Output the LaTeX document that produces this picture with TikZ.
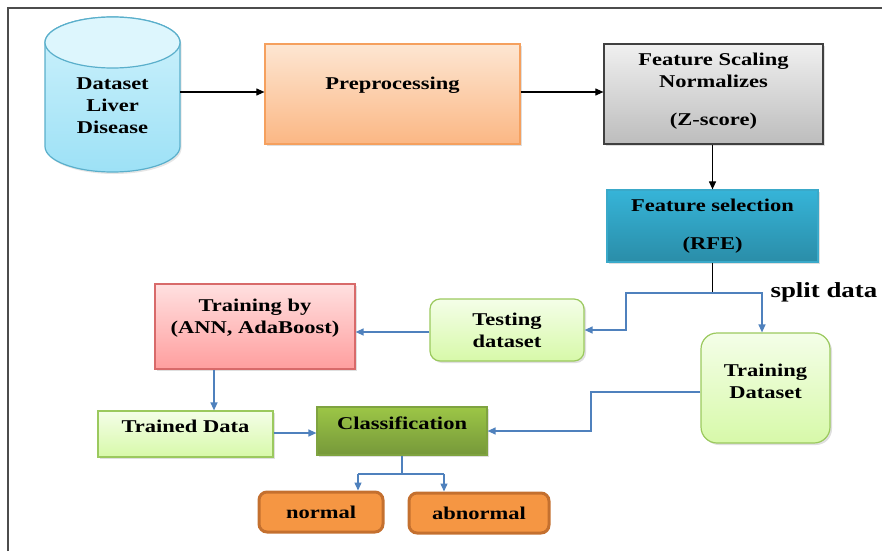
\documentclass[tikz,border=0pt]{standalone}
\usepackage{fontspec}
\setmainfont{Liberation Serif}[FakeStretch=1.25]
\usetikzlibrary{arrows.meta,shadows}
\definecolor{lineblue}{HTML}{4F81BD}
\definecolor{cylcap}{HTML}{DDF6FD}
\definecolor{cyltop}{HTML}{CFF2FC}
\definecolor{cylbot}{HTML}{9DE1F6}
\definecolor{cylline}{HTML}{5AAFCB}
\definecolor{preptop}{HTML}{FDE6D2}
\definecolor{prepbot}{HTML}{FBB784}
\definecolor{prepline}{HTML}{F5A05E}
\definecolor{seltop}{HTML}{36B4D8}
\definecolor{selbot}{HTML}{2A8DA8}
\definecolor{selline}{HTML}{3AA9C9}
\definecolor{pinktop}{HTML}{FFE0E0}
\definecolor{pinkbot}{HTML}{FF9E9E}
\definecolor{pinkline}{HTML}{D86A6A}
\definecolor{greentop}{HTML}{F4FEE8}
\definecolor{greenbot}{HTML}{D7F9A9}
\definecolor{greenline}{HTML}{9BC95E}
\definecolor{clstop}{HTML}{9CC646}
\definecolor{clsbot}{HTML}{76983A}
\definecolor{clsline}{HTML}{7FA340}
\definecolor{outorange}{HTML}{F59643}
\definecolor{outline}{HTML}{C4702F}
\begin{document}
\begin{tikzpicture}[x=1pt, y=-1pt,
    box/.style={draw, line width=1.2pt, inner sep=0pt,
      drop shadow={opacity=.25, shadow xshift=2pt, shadow yshift=-2pt}},
    greenbox/.style={box, draw=greenline, top color=greentop, bottom color=greenbot},
    outbox/.style={draw=outline, line width=3pt, fill=outorange, rounded corners=8pt,
      minimum height=40pt, inner sep=0pt},
    txt/.style={font=\bfseries\fontsize{18}{22}\selectfont, align=center},
    every label/.append style={txt},
    arr/.style={-{Triangle[length=8pt,width=7pt]}, line width=1.1pt},
    barr/.style={arr, lineblue, line width=1.3pt}
  ]
  \useasboundingbox (0,0) rectangle (882,551);
  \draw[line width=1.5pt, black!70] (8,551) -- (8,8) -- (882,8);

  % database cylinder
  \shade[top color=cyltop, bottom color=cylbot, draw=cylline, line width=1.2pt,
    drop shadow={opacity=.2, shadow xshift=1.5pt, shadow yshift=-2pt}]
    (45,42.5) -- (45,146.5) arc[start angle=180, end angle=0, x radius=67.5, y radius=25.5]
    -- (180,42.5) arc[start angle=0, end angle=-180, x radius=67.5, y radius=25.5] -- cycle;
  \filldraw[fill=cylcap, draw=cylline, line width=1.2pt] (112.5,42.5) ellipse[x radius=67.5, y radius=25.5];
  \node[minimum width=135pt, minimum height=155pt, inner sep=0pt,
    label={[yshift=-11.5pt]center:Dataset\\Liver\\Disease}] (data) at (112.5,94.5) {};

  \node[box, draw=prepline, top color=preptop, bottom color=prepbot,
    minimum width=255pt, minimum height=100pt,
    label={[yshift=9pt]center:Preprocessing}] (prep) at (392.5,94) {};
  \node[box, draw=black!75, top color=black!6, bottom color=black!26,
    minimum width=219pt, minimum height=100pt,
    label={[yshift=3pt]center:Feature Scaling\\Normalizes\\[16pt](Z-score)}] (scale) at (713.5,94) {};
  \node[box, draw=selline, top color=seltop, bottom color=selbot,
    minimum width=211pt, minimum height=72pt,
    label={center:Feature selection\\[16pt](RFE)}] (select) at (712.5,226) {};
  \node[greenbox, rounded corners=10pt, minimum width=154pt, minimum height=62pt,
    label={center:Testing\\dataset}] (testset) at (507,330) {};
  \node[greenbox, rounded corners=16pt, minimum width=129pt, minimum height=110pt,
    label={[yshift=7pt]center:Training\\Dataset}] (trainset) at (765.5,388) {};
  \node[box, draw=pinkline, top color=pinktop, bottom color=pinkbot,
    minimum width=200pt, minimum height=85pt,
    label={[yshift=8pt]center:{Training by\\(ANN, AdaBoost)}}] (trainby) at (255,326.5) {};
  \node[greenbox, minimum width=175pt, minimum height=46pt,
    label={[yshift=8pt]center:Trained Data}] (trained) at (185.5,434) {};
  \node[box, draw=clsline, top color=clstop, bottom color=clsbot,
    minimum width=170pt, minimum height=48pt,
    label={[yshift=8pt]center:Classification}] (classif) at (402,431) {};
  \node[outbox, minimum width=124pt, label={center:normal}] (normal) at (321,512) {};
  \node[outbox, minimum width=140pt, label={center:abnormal}] (abnormal) at (479,513) {};
  \node[txt, font=\bfseries\fontsize{21.5}{26}\selectfont, anchor=west] (splitlbl) at (767,292) {split data};

  \coordinate (split) at (712.5,293);
  \coordinate (splitl) at (626,293);
  \coordinate (fl) at (358,474);
  \coordinate (fr) at (444,474);

  \draw[arr] (data.east |- 0,92) -- (prep.west |- 0,92);
  \draw[arr] (prep.east |- 0,92) -- (scale.west |- 0,92);
  \draw[arr] (select.north |- scale.south) -- (select.north);
  \draw[line width=1.1pt] (select.south) -- (split);
  \draw[barr] (split) -| ([xshift=-3.5pt]trainset.north);
  \draw[barr] (split) -- (splitl) |- (testset.east);
  \draw[barr] (testset.west |- 0,332) -- (trainby.east |- 0,332);
  \draw[barr] ([xshift=-41pt]trainby.south) -- ([xshift=-41pt]trainby.south |- trained.north);
  \draw[barr] (trained.east |- 0,433) -- (classif.west |- 0,433);
  \draw[barr] (trainset.west |- 0,392) -- (591,392) |- (classif.east);
  \draw[lineblue, line width=1.3pt] (classif.south) -- (classif.south |- fl) (fl) -- (fr);
  \draw[barr] (fl) -- (fl |- normal.north);
  \draw[barr] (fr) -- (fr |- abnormal.north);
\end{tikzpicture}
\end{document}
